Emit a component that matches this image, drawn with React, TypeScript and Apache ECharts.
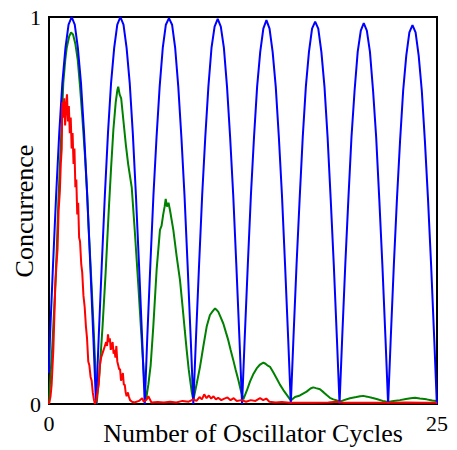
import React, { useEffect, useRef } from "react";
import * as echarts from "echarts";

const xTickLabels = ["0", "25"];
const yTickLabels = ["0", "1"];
const xTitle = "Number of Oscillator Cycles";
const yTitle = "Concurrence";

// Blue series: [cycles, concurrence]
const blueData: number[][] = [
  [0, 0.08], [0.06, 0.17], [0.26, 0.36], [0.46, 0.54], [0.66, 0.70], [0.86, 0.83], [1.06, 0.92], [1.26, 0.98], [1.46, 1.0],
  [1.66, 0.98], [1.86, 0.92], [2.06, 0.83], [2.26, 0.70], [2.46, 0.54], [2.66, 0.36], [2.86, 0.17], [3.03, 0.0],
  [3.20, 0.17], [3.40, 0.36], [3.60, 0.54], [3.80, 0.70], [4.00, 0.83], [4.20, 0.92], [4.40, 0.98], [4.60, 1.0],
  [4.80, 0.98], [5.00, 0.92], [5.20, 0.83], [5.40, 0.70], [5.60, 0.54], [5.80, 0.36], [6.00, 0.17], [6.17, 0.0],
  [6.33, 0.17], [6.53, 0.36], [6.73, 0.54], [6.93, 0.69], [7.13, 0.82], [7.33, 0.92], [7.53, 0.98], [7.73, 0.997],
  [7.93, 0.98], [8.13, 0.92], [8.33, 0.82], [8.53, 0.69], [8.73, 0.54], [8.93, 0.36], [9.13, 0.17], [9.30, 0.0],
  [9.47, 0.17], [9.67, 0.36], [9.87, 0.54], [10.07, 0.69], [10.27, 0.82], [10.47, 0.92], [10.67, 0.975], [10.87, 0.995],
  [11.07, 0.975], [11.27, 0.92], [11.47, 0.82], [11.67, 0.69], [11.87, 0.54], [12.07, 0.36], [12.27, 0.17], [12.44, 0.0],
  [12.61, 0.17], [12.81, 0.36], [13.01, 0.54], [13.21, 0.69], [13.41, 0.82], [13.61, 0.91], [13.81, 0.97], [14.01, 0.992],
  [14.21, 0.97], [14.41, 0.91], [14.61, 0.82], [14.81, 0.69], [15.01, 0.54], [15.21, 0.36], [15.41, 0.17], [15.58, 0.0],
  [15.75, 0.17], [15.95, 0.36], [16.15, 0.53], [16.35, 0.69], [16.55, 0.82], [16.75, 0.91], [16.95, 0.97], [17.15, 0.988],
  [17.35, 0.97], [17.55, 0.91], [17.75, 0.82], [17.95, 0.69], [18.15, 0.53], [18.35, 0.36], [18.55, 0.17], [18.72, 0.0],
  [18.89, 0.17], [19.09, 0.36], [19.29, 0.53], [19.49, 0.69], [19.69, 0.81], [19.89, 0.91], [20.09, 0.965], [20.28, 0.984],
  [20.48, 0.965], [20.68, 0.91], [20.88, 0.81], [21.08, 0.69], [21.28, 0.53], [21.48, 0.36], [21.68, 0.17], [21.85, 0.0],
  [22.02, 0.17], [22.22, 0.36], [22.42, 0.53], [22.62, 0.68], [22.82, 0.81], [23.02, 0.90], [23.22, 0.96], [23.42, 0.979],
  [23.62, 0.96], [23.82, 0.90], [24.02, 0.81], [24.22, 0.68], [24.42, 0.53], [24.62, 0.36], [24.82, 0.17], [24.99, 0.0],
  [25.0, 0.01],
];

// Green series
const greenData: number[][] = [
  [0.0, 0.0], [0.06, 0.05], [0.2, 0.14], [0.39, 0.29], [0.5, 0.4], [0.6, 0.52], [0.75, 0.66], [0.92, 0.83],
  [1.05, 0.89], [1.14, 0.92], [1.3, 0.95], [1.42, 0.96], [1.55, 0.955], [1.7, 0.93], [1.85, 0.89], [2.0, 0.82],
  [2.15, 0.74], [2.32, 0.64], [2.45, 0.55], [2.55, 0.46], [2.65, 0.38], [2.75, 0.3], [2.87, 0.2], [2.98, 0.1], [3.07, 0.0],
  [3.25, 0.08], [3.45, 0.2], [3.65, 0.34], [3.85, 0.5], [4.0, 0.61], [4.15, 0.71], [4.3, 0.78], [4.4, 0.81], [4.46, 0.82],
  [4.55, 0.8], [4.65, 0.79], [4.8, 0.73], [4.95, 0.67], [5.1, 0.62], [5.33, 0.56], [5.54, 0.44], [5.75, 0.31],
  [5.95, 0.18], [6.12, 0.07], [6.25, 0.01],
  [6.4, 0.05], [6.55, 0.1], [6.72, 0.2], [6.94, 0.35], [7.15, 0.45], [7.25, 0.46], [7.36, 0.49], [7.45, 0.51], [7.52, 0.53],
  [7.6, 0.51], [7.7, 0.52], [7.8, 0.5], [8.01, 0.45], [8.23, 0.38], [8.44, 0.32], [8.61, 0.25], [8.75, 0.19],
  [8.87, 0.14], [9.0, 0.09], [9.1, 0.06], [9.2, 0.03], [9.3, 0.01],
  [9.52, 0.053], [9.73, 0.096], [9.94, 0.148], [10.16, 0.2], [10.37, 0.23], [10.55, 0.24], [10.7, 0.247], [10.8, 0.243],
  [10.91, 0.238], [11.05, 0.225], [11.23, 0.208], [11.4, 0.185], [11.55, 0.165], [11.7, 0.14], [11.87, 0.114],
  [12.03, 0.088], [12.2, 0.062], [12.36, 0.035], [12.52, 0.012],
  [12.75, 0.035], [12.95, 0.058], [13.15, 0.076], [13.38, 0.092], [13.6, 0.102], [13.81, 0.107], [13.95, 0.104],
  [14.1, 0.099], [14.24, 0.096], [14.45, 0.082], [14.67, 0.066], [14.88, 0.05], [15.1, 0.036], [15.3, 0.025],
  [15.53, 0.012], [15.6, 0.01],
  [15.85, 0.018], [16.17, 0.022], [16.6, 0.032], [16.85, 0.04], [17.03, 0.043], [17.2, 0.041], [17.46, 0.038],
  [17.7, 0.03], [17.89, 0.023], [18.1, 0.016], [18.32, 0.012], [18.55, 0.009], [18.75, 0.006],
  [19.0, 0.01], [19.39, 0.015], [19.8, 0.018], [20.05, 0.02], [20.25, 0.021], [20.5, 0.019], [20.8, 0.016],
  [21.11, 0.013], [21.5, 0.008], [21.86, 0.005],
  [22.2, 0.008], [22.61, 0.01], [23.0, 0.013], [23.3, 0.015], [23.58, 0.016], [23.9, 0.014], [24.33, 0.012],
  [24.7, 0.009], [24.98, 0.008],
];

// Red series
const redData: number[][] = [
  [0.0, 0.0], [0.1, 0.02], [0.17, 0.05], [0.28, 0.14], [0.34, 0.22], [0.4, 0.3], [0.48, 0.36], [0.55, 0.4],
  [0.62, 0.5], [0.7, 0.55], [0.76, 0.62], [0.82, 0.66], [0.86, 0.78], [0.92, 0.74], [0.98, 0.79], [1.04, 0.72],
  [1.1, 0.77], [1.16, 0.8], [1.22, 0.73], [1.28, 0.77], [1.34, 0.7], [1.4, 0.74], [1.46, 0.66], [1.52, 0.7],
  [1.58, 0.62], [1.64, 0.66], [1.7, 0.56], [1.76, 0.58], [1.82, 0.49], [1.88, 0.52], [1.94, 0.43], [2.0, 0.42],
  [2.08, 0.36], [2.14, 0.34], [2.22, 0.28], [2.3, 0.25], [2.38, 0.2], [2.45, 0.17], [2.53, 0.11], [2.6, 0.1],
  [2.68, 0.07], [2.75, 0.06], [2.82, 0.03], [2.9, 0.01], [2.96, 0.0],
  [3.05, 0.01], [3.12, 0.03], [3.2, 0.05], [3.28, 0.1], [3.36, 0.12], [3.44, 0.13], [3.52, 0.14], [3.6, 0.15],
  [3.68, 0.16], [3.74, 0.15], [3.8, 0.18], [3.86, 0.16], [3.92, 0.17], [3.98, 0.14], [4.04, 0.15], [4.1, 0.16],
  [4.16, 0.13], [4.22, 0.14], [4.28, 0.12], [4.34, 0.15], [4.4, 0.11], [4.46, 0.1], [4.52, 0.09], [4.58, 0.09],
  [4.64, 0.06], [4.7, 0.07], [4.76, 0.08], [4.82, 0.05], [4.88, 0.05], [4.94, 0.03], [5.0, 0.02], [5.08, 0.03],
  [5.14, 0.02], [5.22, 0.01], [5.35, 0.006],
  [5.5, 0.004], [5.8, 0.008], [6.0, 0.015], [6.1, 0.006], [6.3, 0.012], [6.4, 0.02], [6.6, 0.004], [7.0, 0.005],
  [7.4, 0.004], [7.8, 0.006], [8.2, 0.004], [8.6, 0.008], [9.0, 0.006], [9.3, 0.012], [9.5, 0.008], [9.7, 0.018],
  [9.85, 0.012], [10.0, 0.025], [10.15, 0.015], [10.3, 0.022], [10.45, 0.014], [10.6, 0.02], [10.75, 0.012],
  [10.9, 0.016], [11.1, 0.01], [11.3, 0.014], [11.5, 0.017], [11.7, 0.01], [11.9, 0.015], [12.1, 0.008],
  [12.4, 0.01], [12.7, 0.006], [13.0, 0.01], [13.3, 0.008], [13.6, 0.015], [13.8, 0.01], [14.0, 0.014],
  [14.2, 0.006], [14.6, 0.004], [15.0, 0.005], [15.5, 0.003], [16.0, 0.003], [17.0, 0.003], [18.0, 0.004],
  [18.5, 0.006], [19.0, 0.003], [20.0, 0.003], [21.0, 0.003], [22.0, 0.003], [23.0, 0.004], [24.0, 0.003],
  [25.0, 0.003],
];

const FONT = "'Liberation Serif', 'Times New Roman', serif";

export default function App() {
  const ref = useRef<HTMLDivElement>(null);
  useEffect(() => {
    document.body.style.margin = "0";
    if (!ref.current) return;
    const chart = echarts.init(ref.current, null, { renderer: "svg" });
    const line = (data: number[][], color: string, z: number) => ({
      type: "line",
      data,
      showSymbol: false,
      clip: false,
      z,
      lineStyle: { color, width: 2 },
      itemStyle: { color },
    });
    chart.setOption({
      animation: false,
      backgroundColor: "#ffffff",
      grid: {
        left: 49,
        top: 17,
        right: 20,
        bottom: 46,
        show: true,
        borderColor: "#000",
        borderWidth: 2,
        containLabel: false,
        outerBoundsMode: "none",
      },
      xAxis: {
        type: "value",
        min: 0,
        max: 25,
        interval: 25,
        axisLine: { show: false },
        axisTick: { show: false },
        splitLine: { show: false },
        axisLabel: {
          margin: 8,
          color: "#000",
          fontFamily: FONT,
          fontSize: 22,
          formatter: (v: number) => (v === 0 ? xTickLabels[0] : v === 25 ? xTickLabels[1] : ""),
        },
      },
      yAxis: {
        type: "value",
        min: 0,
        max: 1,
        interval: 1,
        axisLine: { show: false },
        axisTick: { show: false },
        splitLine: { show: false },
        axisLabel: {
          margin: 8,
          color: "#000",
          fontFamily: FONT,
          fontSize: 22,
          formatter: (v: number) => (v === 0 ? yTickLabels[0] : v === 1 ? yTickLabels[1] : ""),
        },
      },
      graphic: [
        {
          type: "text",
          x: 253,
          y: 433,
          style: {
            text: xTitle,
            fill: "#000",
            font: `26px ${FONT}`,
            align: "center",
            verticalAlign: "middle",
          },
        },
        {
          type: "text",
          x: 24,
          y: 211,
          rotation: Math.PI / 2,
          style: {
            text: yTitle,
            fill: "#000",
            font: `26px ${FONT}`,
            align: "center",
            verticalAlign: "middle",
          },
        },
      ],
      series: [
        line(greenData, "#008000", 2),
        line(blueData, "#0000ff", 3),
        line(redData, "#ff0000", 4),
      ],
    });
    return () => chart.dispose();
  }, []);
  return <div ref={ref} style={{ width: 457, height: 450 }} />;
}
